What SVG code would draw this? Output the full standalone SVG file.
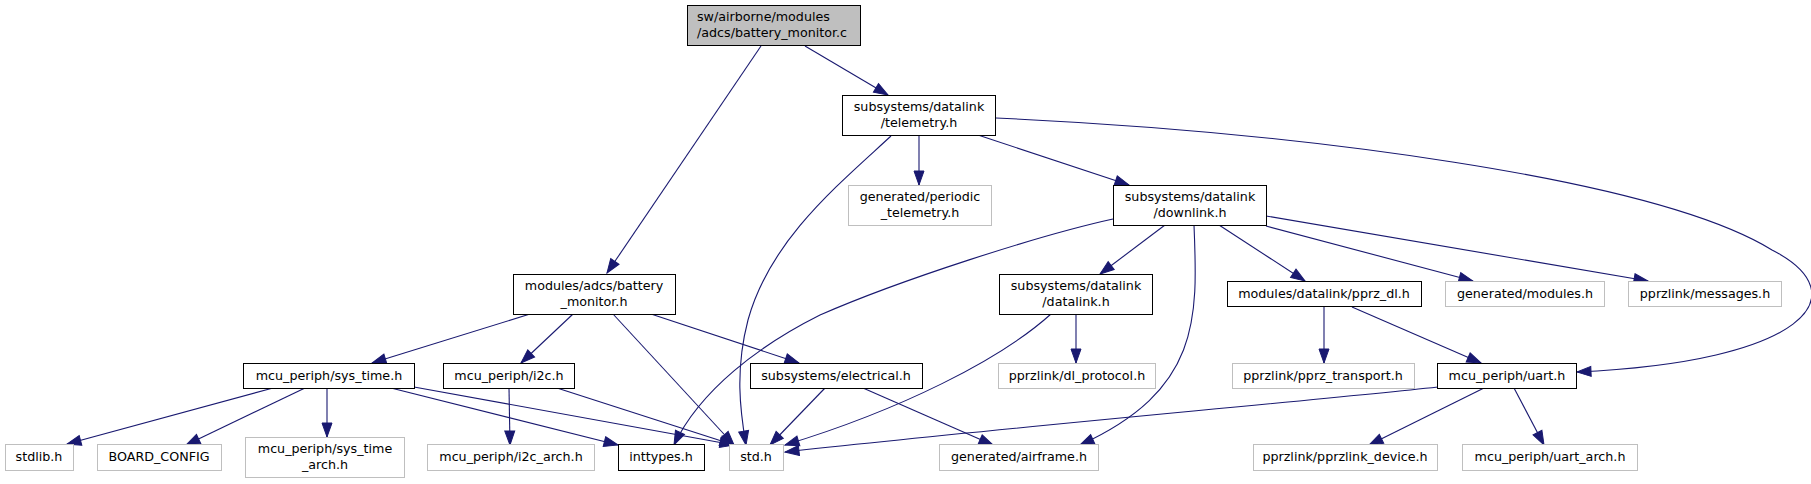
<svg xmlns="http://www.w3.org/2000/svg" width="1811" height="484" viewBox="0 0 1811 484">
<style>
  .n rect { fill: #ffffff; stroke: #000000; stroke-width: 1; }
  .g rect { fill: #ffffff; stroke: #bfbfbf; stroke-width: 1; }
  .r rect { fill: #bfbfbf; stroke: #000000; stroke-width: 1; }
  text { font-family: "DejaVu Sans", "Liberation Sans", sans-serif; font-size: 12.7px; fill: #000000; text-anchor: middle; }
  .l text { text-anchor: start; }
  #edges path { fill: none; stroke: #191970; stroke-width: 1.1; marker-end: url(#arr); }
</style>
<defs>
  <marker id="arr" markerUnits="userSpaceOnUse" markerWidth="16" markerHeight="12" refX="14" refY="5" orient="auto" overflow="visible">
    <path d="M0,0 L14,5 L0,10 z" fill="#191970" stroke="#191970" stroke-width="1"/>
  </marker>
</defs>
<rect width="1811" height="484" fill="#ffffff"/>
<g id="edges">
  <path d="M805,46 L888,95"/>
  <path d="M761,46 L607,273"/>
  <path d="M919,135 L919,185"/>
  <path d="M978,135 L1129,185"/>
  <path d="M996,118 C1300,132 1655,178 1772,250 C1860,295 1805,362 1577,372"/>
  <path d="M891,136 C838,185 770,240 748,320 C735,370 740,410 746,445"/>
  <path d="M1113,219 C1040,235 900,280 820,315 C760,345 700,390 674,445"/>
  <path d="M1165,225 L1100,274"/>
  <path d="M1194,225 C1198,320 1200,390 1080,445"/>
  <path d="M1219,225 L1305,281"/>
  <path d="M1266,226 L1473,281"/>
  <path d="M1266,216 L1648,281"/>
  <path d="M530,314 L372,363"/>
  <path d="M573,314 L521,363"/>
  <path d="M613,314 L734,445"/>
  <path d="M651,314 L799,363"/>
  <path d="M273,388 L67,444"/>
  <path d="M305,388 L186,445"/>
  <path d="M327,388 L327,437"/>
  <path d="M391,388 L618,445"/>
  <path d="M414,387 L734,445"/>
  <path d="M509,388 L510,445"/>
  <path d="M557,388 L734,445"/>
  <path d="M825,388 L770,445"/>
  <path d="M863,388 L993,445"/>
  <path d="M1051,314 C1000,360 900,410 785,445"/>
  <path d="M1076,314 L1076,363"/>
  <path d="M1324,307 L1324,363"/>
  <path d="M1352,307 L1481,363"/>
  <path d="M1438,387 C1300,402 1000,428 785,452"/>
  <path d="M1484,388 L1369,445"/>
  <path d="M1514,388 L1544,445"/>
</g>
<g id="battery_monitor_c" class="r l"><rect x="687.5" y="5.5" width="173" height="40"/><text x="697" y="21">sw/airborne/modules</text><text x="697" y="37">/adcs/battery_monitor.c</text></g>
<g id="telemetry_h" class="n"><rect x="842.5" y="95.5" width="153" height="40"/><text x="919" y="111">subsystems/datalink</text><text x="919" y="127">/telemetry.h</text></g>
<g id="periodic_telemetry_h" class="g"><rect x="848.5" y="185.5" width="143" height="40"/><text x="920" y="201">generated/periodic</text><text x="920" y="217">_telemetry.h</text></g>
<g id="downlink_h" class="n"><rect x="1113.5" y="185.5" width="153" height="40"/><text x="1190" y="201">subsystems/datalink</text><text x="1190" y="217">/downlink.h</text></g>
<g id="battery_monitor_h" class="n"><rect x="513.5" y="274.5" width="162" height="40"/><text x="594" y="290">modules/adcs/battery</text><text x="594" y="306">_monitor.h</text></g>
<g id="datalink_h" class="n"><rect x="999.5" y="274.5" width="153" height="40"/><text x="1076" y="290">subsystems/datalink</text><text x="1076" y="306">/datalink.h</text></g>
<g id="pprz_dl_h" class="n"><rect x="1227.5" y="281.5" width="194" height="25"/><text x="1324" y="298">modules/datalink/pprz_dl.h</text></g>
<g id="generated_modules_h" class="g"><rect x="1445.5" y="281.5" width="159" height="25"/><text x="1525" y="298">generated/modules.h</text></g>
<g id="messages_h" class="g"><rect x="1628.5" y="281.5" width="153" height="25"/><text x="1705" y="298">pprzlink/messages.h</text></g>
<g id="sys_time_h" class="n"><rect x="243.5" y="363.5" width="171" height="25"/><text x="329" y="380">mcu_periph/sys_time.h</text></g>
<g id="i2c_h" class="n"><rect x="443.5" y="363.5" width="131" height="25"/><text x="509" y="380">mcu_periph/i2c.h</text></g>
<g id="electrical_h" class="n"><rect x="750.5" y="363.5" width="172" height="25"/><text x="836" y="380">subsystems/electrical.h</text></g>
<g id="dl_protocol_h" class="g"><rect x="998.5" y="363.5" width="157" height="25"/><text x="1077" y="380">pprzlink/dl_protocol.h</text></g>
<g id="pprz_transport_h" class="g"><rect x="1232.5" y="363.5" width="182" height="25"/><text x="1323" y="380">pprzlink/pprz_transport.h</text></g>
<g id="uart_h" class="n"><rect x="1437.5" y="363.5" width="139" height="25"/><text x="1507" y="380">mcu_periph/uart.h</text></g>
<g id="stdlib_h" class="g"><rect x="5.5" y="444.5" width="68" height="26"/><text x="39" y="461">stdlib.h</text></g>
<g id="BOARD_CONFIG" class="g"><rect x="97.5" y="444.5" width="124" height="26"/><text x="159" y="461">BOARD_CONFIG</text></g>
<g id="sys_time_arch_h" class="g"><rect x="245.5" y="437.5" width="159" height="40"/><text x="325" y="453">mcu_periph/sys_time</text><text x="325" y="469">_arch.h</text></g>
<g id="i2c_arch_h" class="g"><rect x="427.5" y="444.5" width="167" height="26"/><text x="511" y="461">mcu_periph/i2c_arch.h</text></g>
<g id="inttypes_h" class="n"><rect x="618.5" y="444.5" width="86" height="26"/><text x="661" y="461">inttypes.h</text></g>
<g id="std_h" class="g"><rect x="729.5" y="444.5" width="54" height="26"/><text x="756" y="461">std.h</text></g>
<g id="airframe_h" class="g"><rect x="939.5" y="444.5" width="159" height="26"/><text x="1019" y="461">generated/airframe.h</text></g>
<g id="pprzlink_device_h" class="g"><rect x="1253.5" y="444.5" width="184" height="26"/><text x="1345" y="461">pprzlink/pprzlink_device.h</text></g>
<g id="uart_arch_h" class="g"><rect x="1462.5" y="444.5" width="175" height="26"/><text x="1550" y="461">mcu_periph/uart_arch.h</text></g>
</svg>
